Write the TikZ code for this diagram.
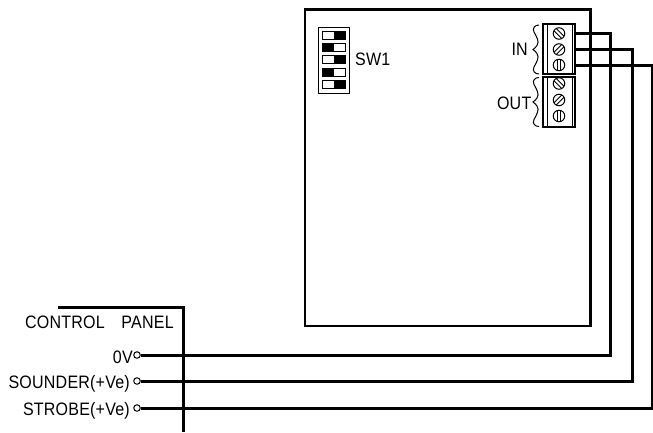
\documentclass[tikz,border=0pt]{standalone}
\usepackage{fontspec}
\setmainfont{Liberation Sans}
\newfontface\cadfont[LetterSpace=1.2,FakeStretch=0.89]{Liberation Sans}
\tikzset{
  wire/.style={line width=3pt,line cap=butt,line join=miter,black},
  frame/.style={line width=3pt,black},
  thin part/.style={line width=1pt,black},
  lbl/.style={inner sep=0pt,font=\cadfont\fontsize{18}{18}\selectfont,text=black},
  port/.style={circle,draw=black,line width=1pt,minimum size=6.5pt,inner sep=0pt},
  screw/.style={circle,draw=black,line width=1pt,minimum size=11.5pt,inner sep=0pt},
  block/.style={draw=black,line width=1.8pt,minimum width=32pt,inner sep=0pt,outer sep=0pt},
}
\newcommand{\slotline}[2]{%
  \draw[thin part,rotate around={#2:(#1)}] ([xshift=-1.6pt,yshift=-5.5pt]#1.center) -- ([xshift=-1.6pt,yshift=5.5pt]#1.center);
  \draw[thin part,rotate around={#2:(#1)}] ([xshift=1.6pt,yshift=-5.5pt]#1.center) -- ([xshift=1.6pt,yshift=5.5pt]#1.center);}
\newcommand{\wavybrace}[3]{% tip x, centre y, half-height
  \draw[thin part] (#1+6,#2-#3) .. controls (#1+2,#2-#3) and (#1-1,#2-#3+3) .. (#1+1,#2-#3+7)
    .. controls (#1+3,#2-#3+11) and (#1+7,#2-8) .. (#1+4,#2-4)
    .. controls (#1+3,#2-2) and (#1+1,#2-1) .. (#1,#2)
    .. controls (#1+1,#2+1) and (#1+3,#2+2) .. (#1+4,#2+4)
    .. controls (#1+7,#2+8) and (#1+3,#2+#3-11) .. (#1+1,#2+#3-7)
    .. controls (#1-1,#2+#3-3) and (#1+2,#2+#3) .. (#1+6,#2+#3);}
\begin{document}
\begin{tikzpicture}[x=1pt,y=-1pt]
\useasboundingbox (0,0) rectangle (653,432);
\fill[white] (0,0) rectangle (653,432);
% main board
\node[draw=black,line width=2.8pt,outer sep=0pt,minimum width=285.5pt,minimum height=316.5pt,inner sep=0pt,anchor=north west] (board) at (305,9.5) {};
% DIP switch
\node[draw=black,line width=1pt,outer sep=0pt,minimum width=31pt,minimum height=66pt,inner sep=0pt,anchor=north west] (sw) at (318,27) {};
\foreach \n/\yy/\bx in {1/31/334,2/43.5/322,3/55.5/334,4/68/322,5/80/334}{
  \draw[thin part] (322,\yy) rectangle (345,\yy+8);
  \fill[black] (\bx,\yy) rectangle (\bx+11.5,\yy+8);
}
\node[lbl,anchor=base west] (swl) at (355,65.5) {SW1};
% terminal blocks
\node[block,minimum height=50pt,anchor=north west] (inb) at (543,24) {};
\node[block,minimum height=50pt,anchor=north west] (outb) at (543,77) {};
\draw[thin part] (547,24) -- (547,74) (572.5,24) -- (572.5,74);
\draw[thin part] (547,77) -- (547,127) (572.5,77) -- (572.5,127);
\foreach \nm/\yy in {s1/33.5,s2/49.5,s3/65,o1/83.5,o2/100,o3/116}{
  \node[screw] (\nm) at (559,\yy) {};
}
\slotline{s1}{45}\slotline{s2}{-45}\slotline{s3}{0}
\slotline{o1}{45}\slotline{o2}{-45}\slotline{o3}{0}
\wavybrace{533}{49.5}{24.5}
\wavybrace{533}{102}{24.5}
\node[lbl,anchor=base east] (inl) at (528,55.5) {IN};
\node[lbl,anchor=base east] (outl) at (531.5,109.5) {OUT};
% control panel
\coordinate (cpa) at (58,307);
\coordinate (cpb) at (183,307);
\coordinate (cpc) at (183,432);
\draw[frame,line join=miter] (cpa) -- (cpb) -- (cpc);
\node[lbl,anchor=base west] (cpl) at (25,328) {CONTROL\hspace{12pt} PANEL};
\node[port] (t1) at (137,355) {};
\node[port] (t2) at (137,381) {};
\node[port] (t3) at (137,408) {};
\node[lbl,anchor=base east] (l1) at (133,363) {0V};
\node[lbl,anchor=base east] (l2) at (130,388.5) {SOUNDER(+Ve)};
\node[lbl,anchor=base east] (l3) at (130,415) {STROBE(+Ve)};
% wires
\coordinate (k1) at (610,355);
\coordinate (k2) at (632,381);
\coordinate (k3) at (652,408);
\draw[wire] (s1 -| inb.east) -| (k1) -- (t1);
\draw[wire] (s2 -| inb.east) -| (k2) -- (t2);
\draw[wire] (s3 -| inb.east) -| (k3) -- (t3);
\end{tikzpicture}
\end{document}
